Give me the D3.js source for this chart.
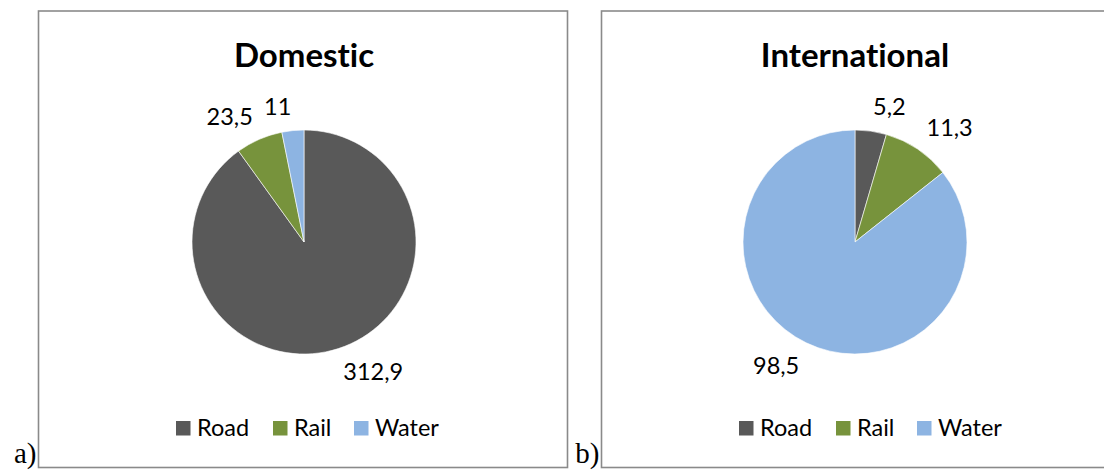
<!DOCTYPE html>
<html>
<head>
<meta charset="utf-8">
<script src="https://cdn.jsdelivr.net/npm/d3@7"></script>
<style>
  html, body { margin: 0; padding: 0; background: #fff; }
  svg { display: block; }
  text { font-variant-ligatures: none; font-feature-settings: "liga" 0, "clig" 0; }
</style>
</head>
<body>
<svg id="chart" width="1104" height="470"></svg>
<script>
// Freight modes and their colours
const modes = ["Road", "Rail", "Water"];
const modeColors = ["#595959", "#77933C", "#8DB4E2"];

// Volumes per mode
const domesticValues = [312.9, 23.5, 11];
const internationalValues = [5.2, 11.3, 98.5];

// Panel titles and captions
const panelTitles = ["Domestic", "International"];
const panelCaptions = ["a)", "b)"];

const svg = d3.select("#chart");
const fmt = v => String(v).replace(".", ",");
const color = d3.scaleOrdinal().domain(modes).range(modeColors);

const panels = [
  { title: panelTitles[0], caption: panelCaptions[0], values: domesticValues, x0: 38.5, x1: 567.5 },
  { title: panelTitles[1], caption: panelCaptions[1], values: internationalValues, x0: 601.5, x1: 1110 }
];

const radius = 112;
const pie = d3.pie().sort(null).value(d => d.value);
const arc = d3.arc().innerRadius(0).outerRadius(radius);
const labelRadius = 128;

panels.forEach((p, i) => {
  const g = svg.append("g");

  // frame
  g.append("rect")
    .attr("x", p.x0).attr("y", 11)
    .attr("width", p.x1 - p.x0).attr("height", 456.5)
    .attr("fill", "none").attr("stroke", "#8a8a8a").attr("stroke-width", 1.6);

  // caption at lower left of the frame
  svg.append("text")
    .attr("x", p.x0 - 2).attr("y", 463)
    .attr("text-anchor", "end")
    .style("font-family", "'Liberation Serif', serif")
    .style("font-size", "29px")
    .attr("fill", "#000")
    .text(p.caption);

  const cx = i === 0 ? 304 : 855;
  const cy = 242;

  // title
  g.append("text")
    .attr("x", cx).attr("y", 67)
    .attr("text-anchor", "middle")
    .attr("font-family", "Lato, sans-serif")
    .attr("font-weight", "bold")
    .attr("font-size", 33)
    .attr("fill", "#000")
    .text(p.title);

  const data = modes.map((m, k) => ({ mode: m, value: p.values[k] }));
  const arcs = pie(data);

  const pg = g.append("g").attr("transform", `translate(${cx},${cy})`);
  pg.selectAll("path")
    .data(arcs)
    .join("path")
    .attr("d", arc)
    .attr("fill", d => color(d.data.mode))
    .attr("stroke", "#fff")
    .attr("stroke-width", 0.6);

  // value labels placed just outside each slice
  pg.selectAll("text")
    .data(arcs)
    .join("text")
    .each(function (d) {
      const a = (d.startAngle + d.endAngle) / 2;
      const sx = Math.sin(a), cy2 = -Math.cos(a);
      const px = sx * labelRadius, py = cy2 * labelRadius;
      d3.select(this)
        .attr("x", px)
        .attr("y", cy2 > 0 ? py + 16.5 : py)
        .attr("text-anchor", sx >= 0 ? "start" : "end");
    })
    .attr("font-family", "Lato, sans-serif")
    .attr("font-size", 23.5)
    .attr("fill", "#000")
    .text(d => fmt(d.data.value));

  // legend
  const legendX = p.x0 + 137.5;
  const step = [0, 97, 178];
  const lg = g.append("g").attr("transform", `translate(${legendX},421)`);
  modes.forEach((m, k) => {
    lg.append("rect")
      .attr("x", step[k]).attr("y", 0)
      .attr("width", 14.5).attr("height", 14.5)
      .attr("fill", color(m));
    lg.append("text")
      .attr("x", step[k] + 21).attr("y", 15)
      .attr("font-family", "Lato, sans-serif")
      .attr("font-size", 23.5)
      .attr("fill", "#000")
      .text(m);
  });
});
</script>
</body>
</html>
